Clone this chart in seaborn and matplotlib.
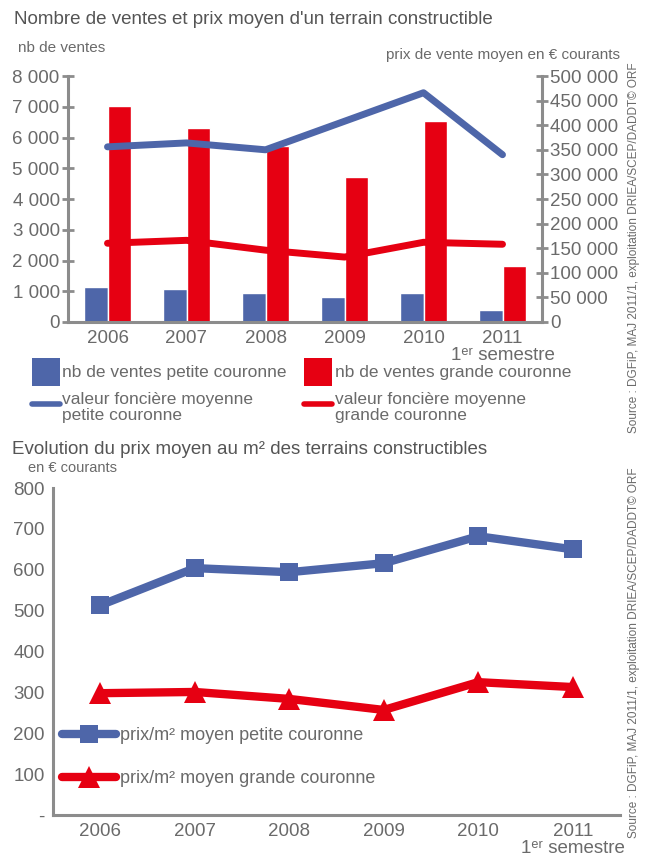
import numpy as np
import pandas as pd
import matplotlib
matplotlib.use("Agg")
import matplotlib.pyplot as plt
from matplotlib.patches import Patch
from matplotlib.lines import Line2D
import matplotlib.ticker as mticker
import seaborn as sns

# data
annees = ["2006", "2007", "2008", "2009", "2010", "2011"]
etiquettes = ["2006", "2007", "2008", "2009", "2010", "2011\n1ᵉʳ semestre"]
ventes_petite = [1140, 1070, 945, 815, 945, 390]
ventes_grande = [7030, 6320, 5720, 4715, 6550, 1820]
valeur_petite = [356000, 364000, 350000, 408000, 466000, 340000]
valeur_grande = [160000, 166000, 146000, 132000, 162000, 158000]
prix_m2_petite = [513, 604, 594, 616, 682, 650]
prix_m2_grande = [298, 301, 284, 257, 325, 313]

BLEU = "#4e66a9"
ROUGE = "#e60012"
GRIS = "#8c8c8c"
TEXTE = "#6a6a6a"

sns.set_style("white")
plt.rcParams["font.family"] = ["Liberation Sans", "DejaVu Sans"]
plt.rcParams["text.color"] = TEXTE
plt.rcParams["xtick.color"] = GRIS
plt.rcParams["ytick.color"] = GRIS
plt.rcParams["xtick.labelcolor"] = TEXTE
plt.rcParams["ytick.labelcolor"] = TEXTE

W, H = 649, 859
fig = plt.figure(figsize=(W / 100, H / 100), dpi=100)


def style_axe(ax, spines):
    for nom, sp in ax.spines.items():
        sp.set_visible(nom in spines)
        sp.set_color(GRIS)
        sp.set_linewidth(2.2)
    ax.tick_params(axis="y", direction="inout", length=8, width=2, labelsize=13.5, pad=2)
    ax.tick_params(axis="x", which="major", length=0, labelsize=13.5, pad=6)
    ax.tick_params(axis="x", which="minor", direction="inout", length=8, width=2)
    ax.set_xticks([0.5, 1.5, 2.5, 3.5, 4.5], minor=True)


def milliers(v, pos):
    return f"{int(v):,}".replace(",", " ")


# ---------- Chart 1: ventes + prix moyen ----------
ax1 = fig.add_axes([68 / W, 1 - 322 / H, (542 - 68) / W, (322 - 76) / H])
df = pd.DataFrame({
    "annee": annees * 2,
    "ventes": ventes_petite + ventes_grande,
    "zone": ["petite"] * 6 + ["grande"] * 6,
})
sns.barplot(data=df, x="annee", y="ventes", hue="zone", palette=[BLEU, ROUGE],
            width=0.6, saturation=1, ax=ax1, legend=False)
ax1.set_ylim(0, 8000)
ax1.set_xlim(-0.5, 5.5)
ax1.set_yticks(range(0, 8001, 1000))
ax1.yaxis.set_major_formatter(mticker.FuncFormatter(milliers))
ax1.set_xlabel("")
ax1.set_ylabel("")

ax2 = ax1.twinx()
sns.lineplot(x=annees, y=valeur_petite, color=BLEU, linewidth=5, sort=False, ax=ax2)
sns.lineplot(x=annees, y=valeur_grande, color=ROUGE, linewidth=5, sort=False, ax=ax2)
ax2.set_ylim(0, 500000)
ax2.set_yticks(range(0, 500001, 50000))
ax2.yaxis.set_major_formatter(mticker.FuncFormatter(milliers))
ax2.set_xlim(-0.5, 5.5)

style_axe(ax1, ["left", "bottom"])
style_axe(ax2, ["right"])
ax1.set_xticks(range(6), etiquettes)
for lab in ax1.get_xticklabels():
    lab.set_multialignment("center")
    lab.set_linespacing(1.0)

fig.text(14 / W, 1 - 20 / H, "Nombre de ventes et prix moyen d'un terrain constructible",
         fontsize=13.5, color="#555555", va="center", ha="left")
fig.text(18 / W, 1 - 48 / H, "nb de ventes", fontsize=11, va="center", ha="left")
fig.text(620 / W, 1 - 55 / H, "prix de vente moyen en € courants", fontsize=11,
         va="center", ha="right")

poignees = [
    Patch(facecolor=BLEU, edgecolor="none"),
    Line2D([], [], color=BLEU, linewidth=4),
    Patch(facecolor=ROUGE, edgecolor="none"),
    Line2D([], [], color=ROUGE, linewidth=4),
]
textes = [
    "nb de ventes petite couronne",
    "valeur foncière moyenne\npetite couronne",
    "nb de ventes grande couronne",
    "valeur foncière moyenne\ngrande couronne",
]
leg = fig.legend(poignees, textes, ncol=2, loc="upper left",
                 bbox_to_anchor=(32 / W, 1 - 358 / H), frameon=False,
                 fontsize=12.5, handlelength=1.6, handleheight=2.1,
                 handletextpad=0.15, columnspacing=1.0, labelspacing=0.35,
                 borderpad=0, borderaxespad=0)
for t in leg.get_texts():
    t.set_color(TEXTE)
    t.set_linespacing(1.1)

# ---------- Chart 2: prix au m2 ----------
ax3 = fig.add_axes([53 / W, 1 - 815 / H, (620 - 53) / W, (815 - 488) / H])
sns.lineplot(x=annees, y=prix_m2_petite, color=BLEU, linewidth=6, marker="s",
             markersize=13, markeredgewidth=0, sort=False, ax=ax3,
             label="prix/m² moyen petite couronne")
sns.lineplot(x=annees, y=prix_m2_grande, color=ROUGE, linewidth=6, marker="^",
             markersize=16, markeredgewidth=0, sort=False, ax=ax3,
             label="prix/m² moyen grande couronne")
ax3.set_ylim(0, 800)
ax3.set_xlim(-0.5, 5.5)
ax3.set_yticks(range(0, 801, 100))
ax3.yaxis.set_major_formatter(mticker.FuncFormatter(lambda v, p: "-" if v == 0 else f"{int(v)}"))
ax3.set_xlabel("")
ax3.set_ylabel("")
style_axe(ax3, ["left", "bottom"])
ax3.set_xticks(range(6), etiquettes)
for lab in ax3.get_xticklabels():
    lab.set_multialignment("center")
    lab.set_linespacing(0.95)

leg2 = ax3.legend(loc="upper left", bbox_to_anchor=(62 / W, 1 - 727 / H),
                  bbox_transform=fig.transFigure, frameon=False, fontsize=13,
                  handlelength=3.0, handletextpad=0.2, labelspacing=1.45,
                  borderpad=0, borderaxespad=0)
for t in leg2.get_texts():
    t.set_color(TEXTE)

fig.text(12 / W, 1 - 450 / H, "Evolution du prix moyen au m² des terrains constructibles",
         fontsize=13.5, color="#555555", va="center", ha="left")
fig.text(28 / W, 1 - 468 / H, "en € courants", fontsize=10.5, va="center", ha="left")

source = "Source : DGFiP, MAJ 2011/1, exploitation DRIEA/SCEP/DADDT© ORF"
fig.text(634 / W, 1 - 248 / H, source, rotation=90, fontsize=8.5,
         va="center", ha="center")
fig.text(634 / W, 1 - 653 / H, source, rotation=90, fontsize=8.5,
         va="center", ha="center")

fig.savefig("out.png", dpi=100)
